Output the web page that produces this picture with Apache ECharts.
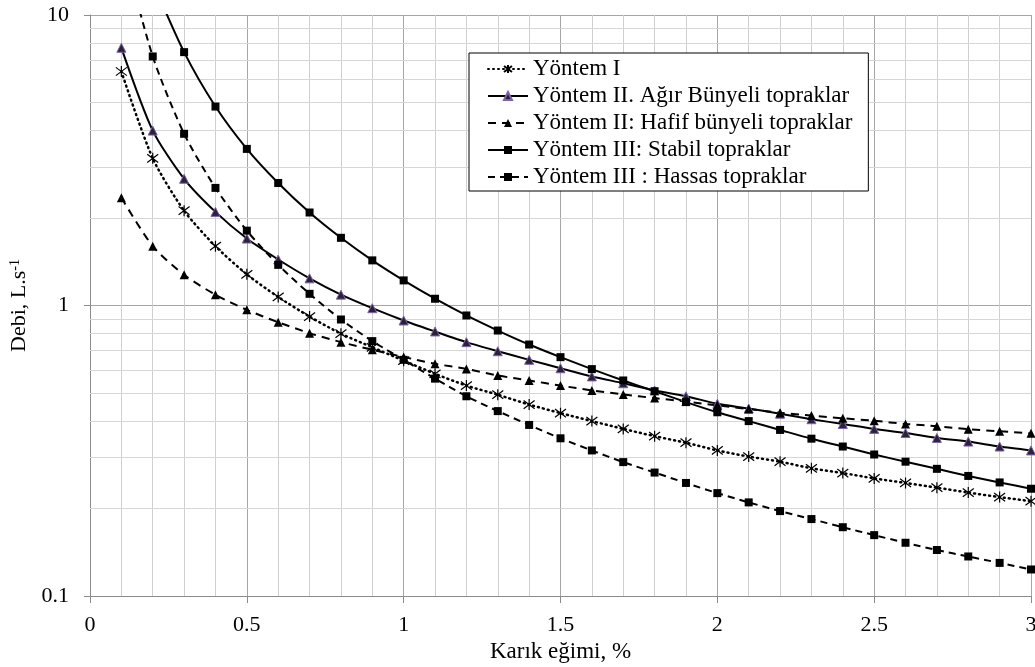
<!DOCTYPE html>
<html>
<head>
<meta charset="utf-8">
<script src="https://cdn.jsdelivr.net/npm/echarts@6/dist/echarts.min.js"></script>
<style>html,body{margin:0;padding:0;background:#fff}#c{width:1035px;height:667px}</style>
</head>
<body>
<div id="c"></div>
<script>
const slope = [0.1,0.2,0.3,0.4,0.5,0.6,0.7,0.8,0.9,1.0,1.1,1.2,1.3,1.4,1.5,1.6,1.7,1.8,1.9,2.0,2.1,2.2,2.3,2.4,2.5,2.6,2.7,2.8,2.9,3.0];
const yontemI = [6.39,3.21,2.12,1.60,1.28,1.07,0.916,0.80,0.718,0.646,0.582,0.530,0.493,0.456,0.426,0.400,0.376,0.355,0.337,0.317,0.302,0.290,0.275,0.265,0.254,0.245,0.236,0.227,0.219,0.212];
const agir = [7.71,4.00,2.73,2.10,1.70,1.44,1.24,1.09,0.979,0.888,0.814,0.748,0.696,0.650,0.608,0.570,0.540,0.510,0.487,0.459,0.442,0.424,0.406,0.391,0.376,0.364,0.350,0.340,0.327,0.317];
const hafif = [2.35,1.60,1.275,1.089,0.966,0.876,0.803,0.748,0.704,0.665,0.630,0.605,0.574,0.552,0.530,0.510,0.494,0.480,0.467,0.453,0.440,0.427,0.418,0.409,0.401,0.391,0.384,0.375,0.369,0.363];
const stabil = [null,13.0,7.45,4.84,3.46,2.64,2.09,1.71,1.43,1.22,1.055,0.924,0.820,0.734,0.664,0.604,0.552,0.507,0.465,0.429,0.400,0.373,0.348,0.327,0.307,0.290,0.274,0.259,0.246,0.234];
const hassas = [18,7.20,3.90,2.54,1.81,1.38,1.097,0.895,0.754,0.650,0.560,0.487,0.433,0.388,0.349,0.317,0.289,0.266,0.245,0.226,0.210,0.196,0.184,0.1725,0.162,0.1525,0.144,0.1368,0.130,0.1234];
const seriesNames = ['Yöntem I','Yöntem II. Ağır Bünyeli topraklar','Yöntem II: Hafif bünyeli topraklar','Yöntem III: Stabil topraklar','Yöntem III : Hassas topraklar'];
const yMinorGrid = [0.2,0.3,0.4,0.5,0.6,0.7,0.8,0.9,2,3,4,5,6,7,8,9];

const pair = arr => slope.map((x,i) => [x, arr[i]]);
const FONT = 'Liberation Serif';
const ASTER = 'path://M0,-10L0,10M-7.5,-7.5L7.5,7.5M-7.5,7.5L7.5,-7.5';

const chart = echarts.init(document.getElementById('c'), null, {renderer:'canvas'});
const base = {type:'line', smooth:0.25, z:3, animation:false, clip:true};
chart.setOption({
  animation:false,
  backgroundColor:'#fff',
  grid:{left:90, right:4, top:15, bottom:71, containLabel:false, outerBoundsMode:'none'},
  legend:{
    orient:'vertical', left:469, top:53,
    backgroundColor:'#fff', borderColor:'#000', borderWidth:1,
    padding:[4,16,2,18], itemGap:3, itemWidth:40, itemHeight:10,
    textStyle:{fontFamily:FONT, fontSize:23, color:'#000', lineHeight:24},
    data:seriesNames
  },
  xAxis:{
    type:'value', min:0, max:3, interval:0.5,
    axisLine:{show:true, lineStyle:{color:'#8c8c8c', width:1}},
    axisTick:{show:true, inside:false, length:7, lineStyle:{color:'#8c8c8c'}},
    axisLabel:{fontFamily:FONT, fontSize:22, color:'#000', margin:18},
    splitLine:{show:true, lineStyle:{color:'#a6a6a6', width:1}},
    minorTick:{show:false, splitNumber:5},
    minorSplitLine:{show:true, lineStyle:{color:'#cfcfcf', width:1}},
    name:'Karık eğimi, %', nameLocation:'middle', nameGap:44,
    nameTextStyle:{fontFamily:FONT, fontSize:23, color:'#000'}
  },
  yAxis:{
    type:'log', logBase:10, min:0.1, max:10,
    axisLine:{show:true, lineStyle:{color:'#8c8c8c', width:1}},
    axisTick:{show:true, inside:false, length:6, lineStyle:{color:'#8c8c8c'}},
    axisLabel:{fontFamily:FONT, fontSize:22, color:'#000', margin:21},
    splitLine:{show:true, lineStyle:{color:'#a6a6a6', width:1}},
    name:'Debi, L.s{sup|-1}', nameLocation:'middle', nameGap:58, nameRotate:90,
    nameTextStyle:{fontFamily:FONT, fontSize:22, color:'#000',
      rich:{sup:{fontFamily:FONT, fontSize:14, color:'#000', verticalAlign:'top', padding:[0,0,8,0]}}}
  },
  series:[
    {type:'line', name:'_grid', data:[], silent:true, z:1, legendHoverLink:false,
     markLine:{silent:true, z:1, symbol:['none','none'], label:{show:false}, animation:false,
       lineStyle:{color:'#d6d6d6', type:'solid', width:1},
       data:yMinorGrid.map(v => ({yAxis:v}))}},
    Object.assign({}, base, {name:seriesNames[0], data:pair(yontemI),
      symbol:ASTER, symbolSize:11,
      itemStyle:{color:'#000', borderColor:'#000', borderWidth:1.2},
      lineStyle:{color:'#000', width:2.5, type:[1,4], cap:'round'}}),
    Object.assign({}, base, {name:seriesNames[1], data:pair(agir),
      symbol:'triangle', symbolSize:9,
      itemStyle:{color:'#2a2238', borderColor:'#7d62a8', borderWidth:1},
      lineStyle:{color:'#000', width:2, type:'solid'}}),
    Object.assign({}, base, {name:seriesNames[2], data:pair(hafif),
      symbol:'triangle', symbolSize:9,
      itemStyle:{color:'#000'},
      lineStyle:{color:'#000', width:2, type:[8,6]}}),
    Object.assign({}, base, {name:seriesNames[3], data:pair(stabil),
      symbol:'rect', symbolSize:8,
      itemStyle:{color:'#000'},
      lineStyle:{color:'#000', width:2, type:'solid'}}),
    Object.assign({}, base, {name:seriesNames[4], data:pair(hassas),
      symbol:'rect', symbolSize:8,
      itemStyle:{color:'#000'},
      lineStyle:{color:'#000', width:2, type:[7,5]}})
  ]
});
</script>
</body>
</html>
